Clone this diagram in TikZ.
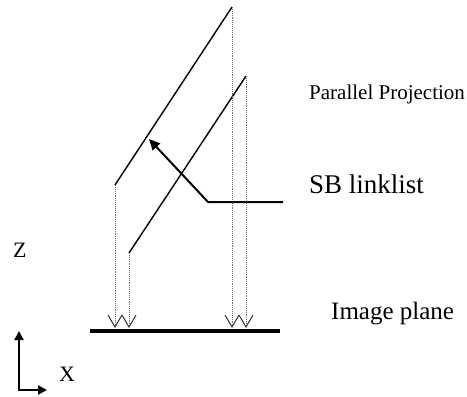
\documentclass[tikz,border=0pt]{standalone}
\usepackage{fontspec}
\setmainfont{Liberation Serif}
\usetikzlibrary{arrows.meta}
\tikzset{
  edge3d/.style={line width=1.4pt, black},
  proj/.style={densely dotted, line width=0.9pt, draw=black!55,
    -{Straight Barb[length=12pt,width=14pt,line width=1pt,color=black!80]}},
  plane/.style={line width=4pt, black},
  pointer/.style={line width=2pt, black, -{Triangle[length=11pt,width=10pt]}},
  axis/.style={line width=2.2pt, black, -{Triangle[length=9pt,width=9pt]}},
  lbl/.style={inner sep=0pt, anchor=base west}
}
\begin{document}
\begin{tikzpicture}[x=1pt,y=-1pt]
\useasboundingbox (0,0) rectangle (467,397);
% 3D edges
\coordinate (a1) at (115,185);
\coordinate (a2) at (232,7);
\coordinate (b1) at (129,253);
\coordinate (b2) at (246,76);
\draw[edge3d] (a1) -- (a2);
\draw[edge3d] (b1) -- (b2);
% image plane
\coordinate (pL) at (90,330.5);
\coordinate (pR) at (280,330.5);
\coordinate (tl) at (0,328);
\draw[plane] (pL) -- (pR);
% projections
\draw[proj] (a1) -- (a1 |- tl);
\draw[proj] (b1) -- (b1 |- tl);
\draw[proj] (a2) -- (a2 |- tl);
\draw[proj] (b2) -- (b2 |- tl);
% pointer
\coordinate (s0) at (283,202);
\coordinate (s1) at (208,202);
\coordinate (s2) at (149,139);
\draw[pointer] (s0) -- (s1) -- (s2);
% axes
\coordinate (o) at (19,390);
\coordinate (oz) at (19,331);
\coordinate (ox) at (47,390);
\draw[axis] ([yshift=1.1pt]o) -- (oz);
\draw[axis] ([xshift=-1.1pt]o) -- (ox);
% labels
\node[lbl, font=\fontsize{21}{25}\selectfont] (pp) at (309,99) {Parallel Projection};
\node[lbl, font=\fontsize{27}{31}\selectfont] (sb) at (309,193) {SB linklist};
\node[lbl, font=\fontsize{25}{29}\selectfont] (ip) at (331,319) {Image plane};
\node[lbl, font=\fontsize{22}{26}\selectfont] (z) at (13,257) {Z};
\node[lbl, font=\fontsize{22}{26}\selectfont] (x) at (59,381) {X};
\end{tikzpicture}
\end{document}
